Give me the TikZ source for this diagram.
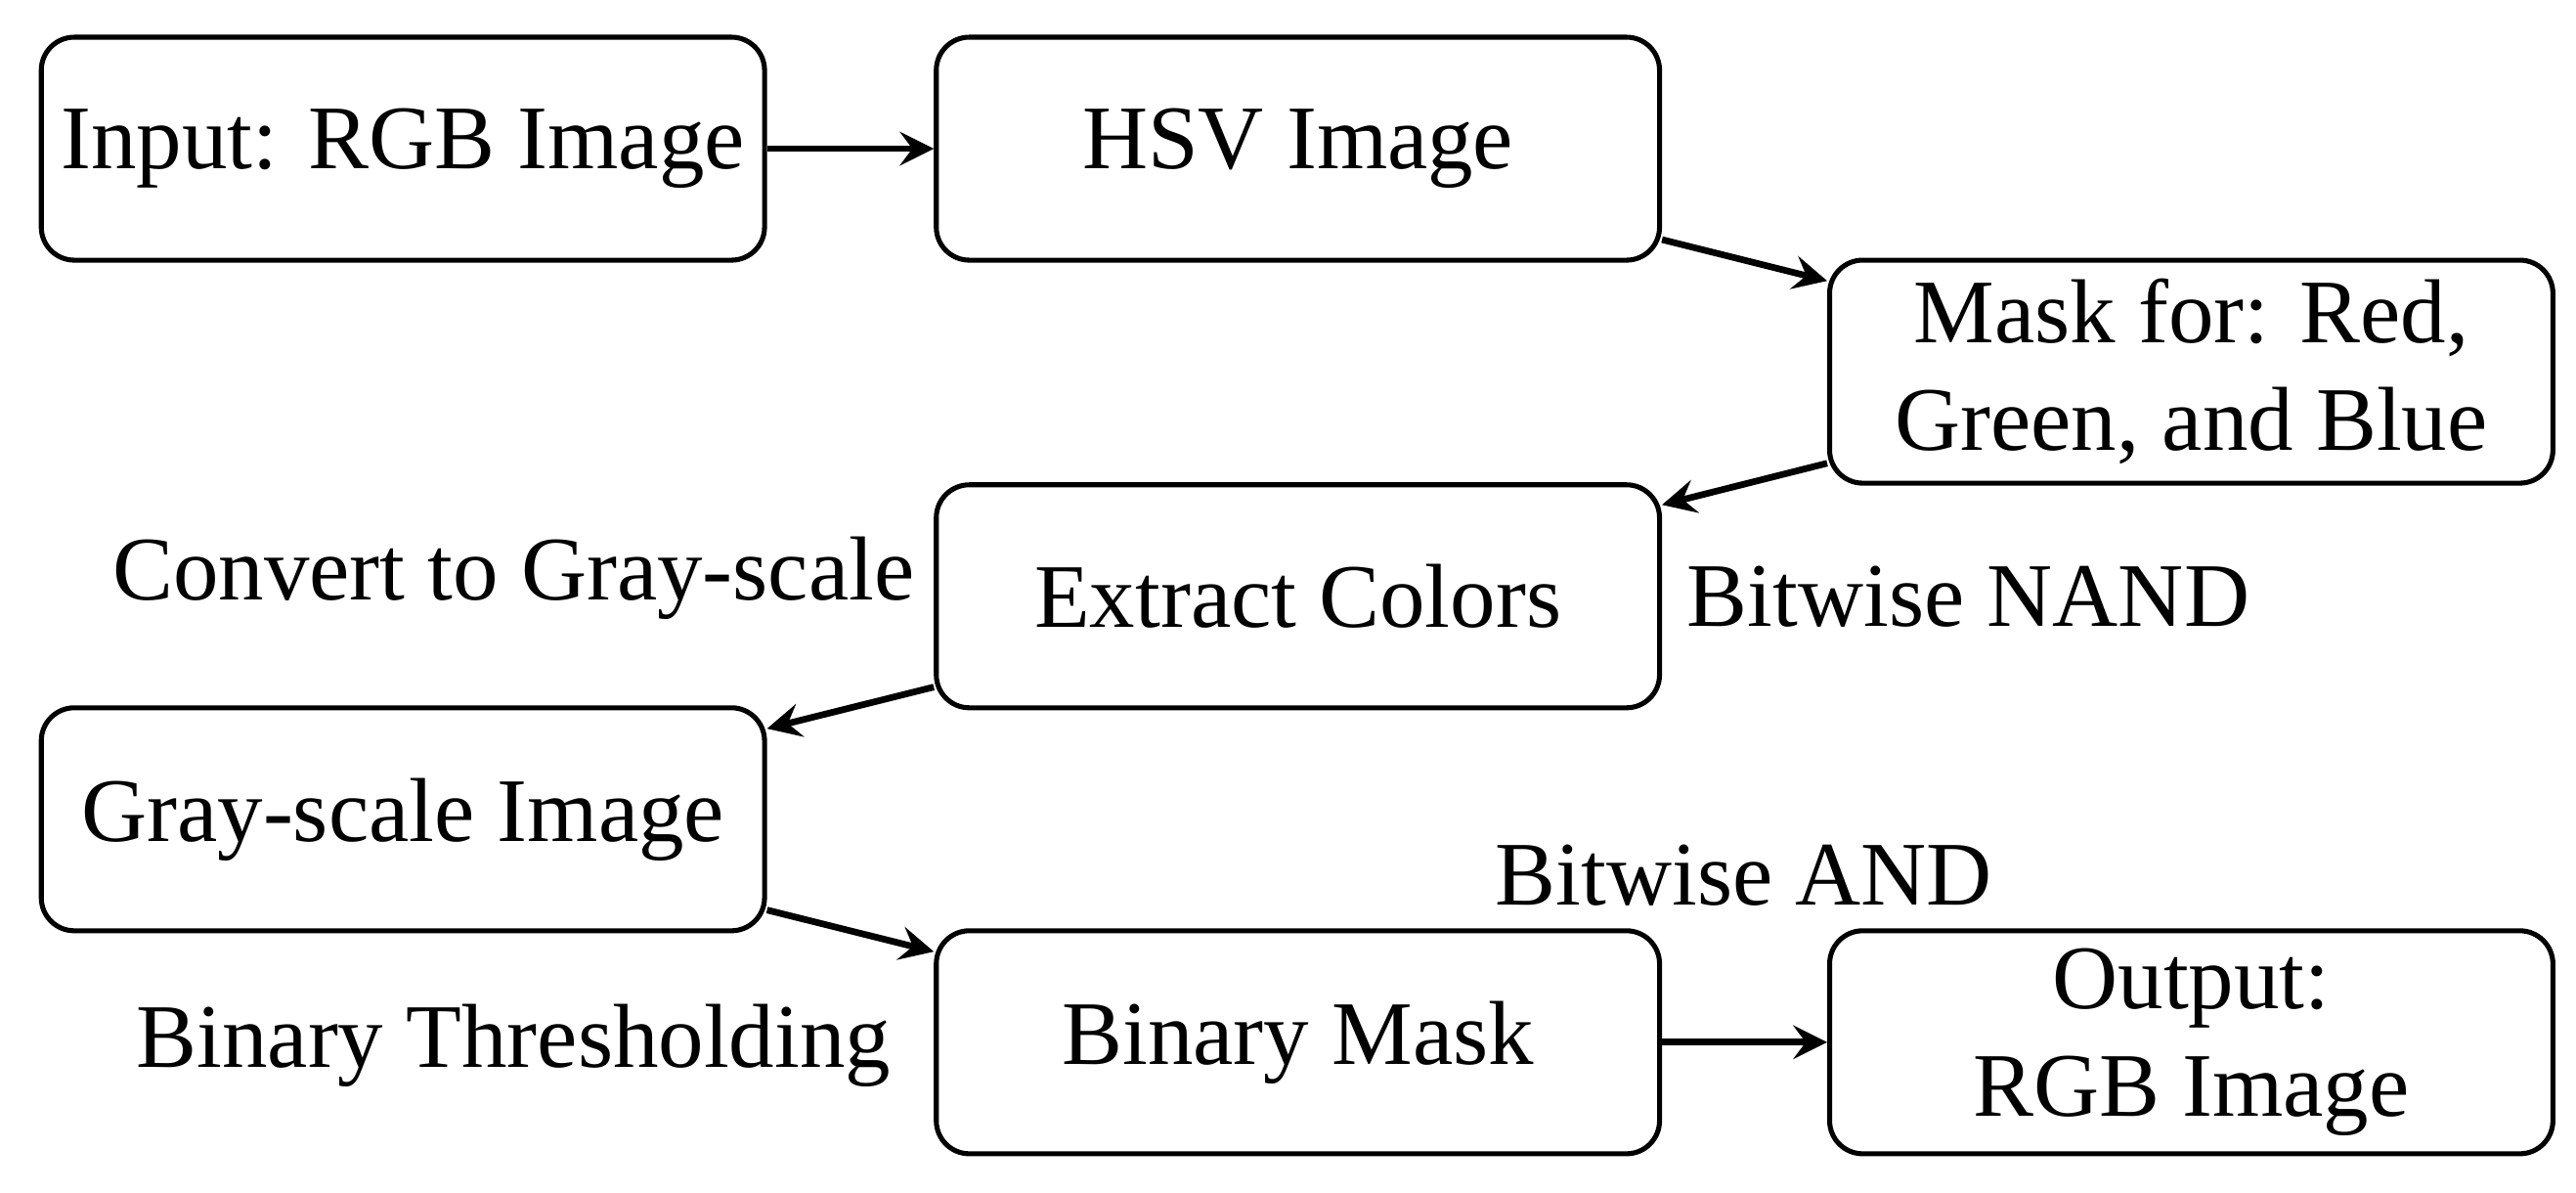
\documentclass[tikz,border=0pt]{standalone}
\usepackage{fontspec}
\setmainfont{Liberation Serif}
\begin{document}
\begin{tikzpicture}[x=0.2pt,y=-0.2pt,font=\fontsize{11}{13}\selectfont,
  box/.style={draw,semithick,rounded corners=4pt,minimum width=87.6pt,minimum height=27pt,align=center,inner sep=2pt},
  arr/.style={->,>=stealth,thick},
  lab/.style={inner sep=0pt}]
\useasboundingbox (0,0) rectangle (1560,722);
\node[box] (A) at (244,90) {Input: RGB Image};
\node[box] (B) at (786,90) {HSV Image};
\node[box] (C) at (1327,225) {Mask for: Red,\\Green, and Blue};
\node[box] (D) at (786,361) {Extract Colors};
\node[box] (E) at (244,496) {Gray-scale Image};
\node[box] (F) at (786,631) {Binary Mask};
\node[box] (G) at (1327,631) {Output:\\RGB Image};
\node[lab] (l1) at (311,350) {Convert to Gray-scale};
\node[lab] (l2) at (1192,361) {Bitwise NAND};
\node[lab] (l3) at (1056,530) {Bitwise AND};
\node[lab] (l4) at (311,633) {Binary Thresholding};
\draw[arr] (A) -- (B);
\draw[arr] (B) -- (C);
\draw[arr] (C) -- (D);
\draw[arr] (D) -- (E);
\draw[arr] (E) -- (F);
\draw[arr] (F) -- (G);
\end{tikzpicture}
\end{document}
